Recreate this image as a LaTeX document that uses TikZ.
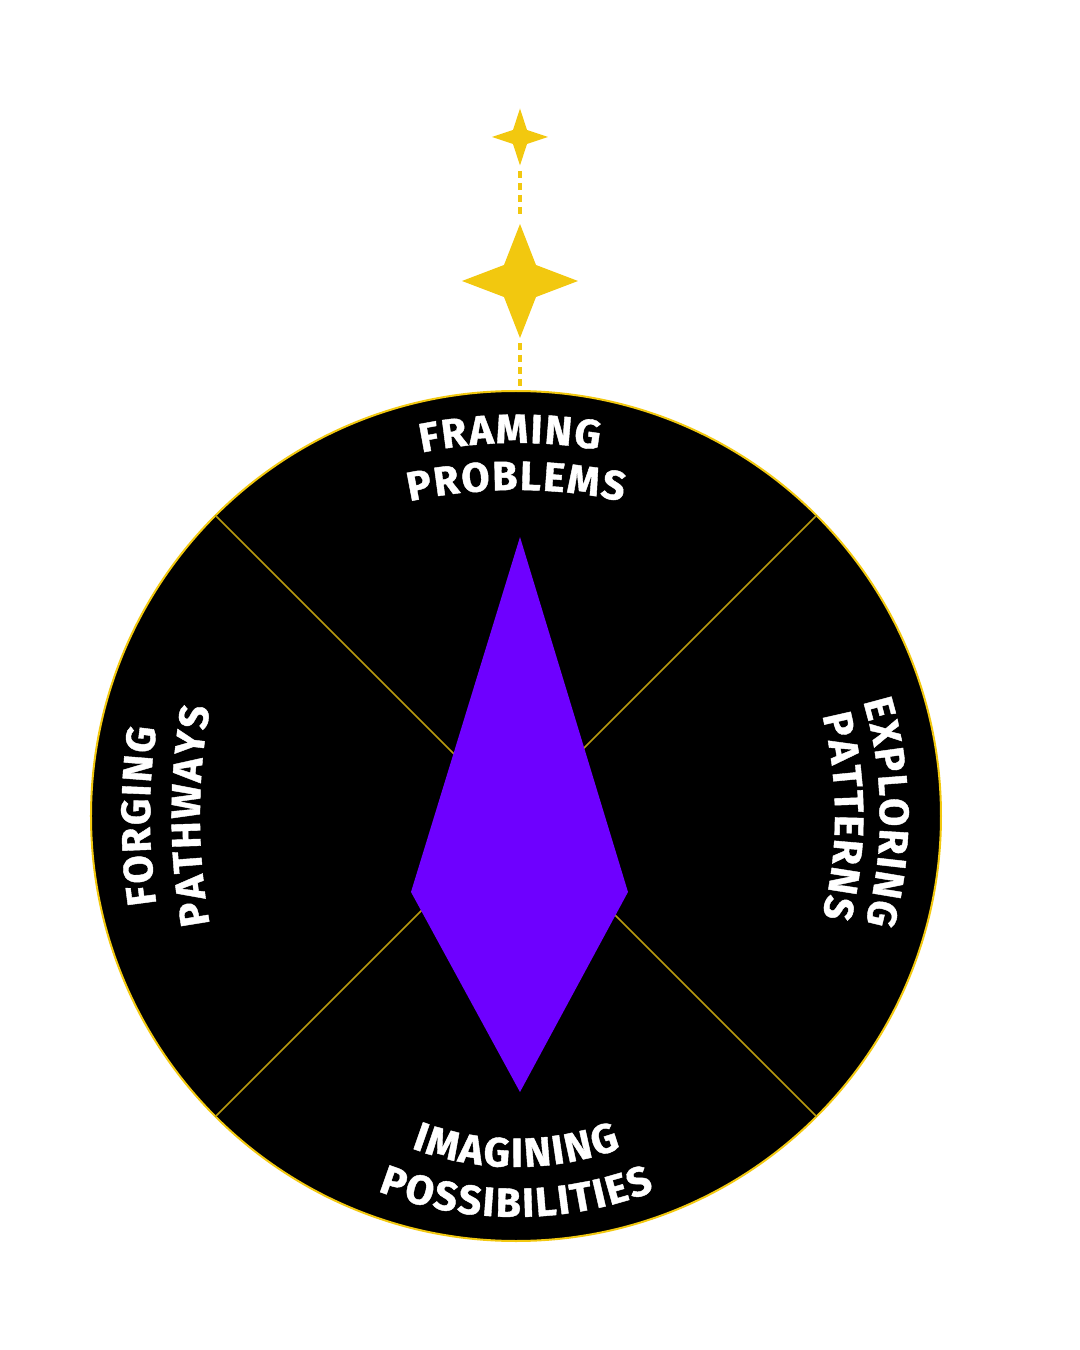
\documentclass[tikz,border=0pt]{standalone}
\usepackage{fontspec}
\usetikzlibrary{decorations.text}
\newfontfamily\lblfont[BoldFeatures={FakeBold=1}]{Fira Sans}
\definecolor{staryellow}{HTML}{F2C80F}
\definecolor{linegold}{HTML}{B89A10}
\definecolor{violet}{HTML}{6E00FF}
\newcommand\lblfmt{\lblfont\bfseries\fontsize{20.5}{20.5}\selectfont\color{white}}
\newcommand\ls{\kern0.9pt}
\tikzset{
  wheel/.style={fill=black,draw=staryellow,line width=1pt},
  divider/.style={draw=linegold,line width=0.8pt},
  gem/.style={fill=violet},
  sparkle/.style={fill=staryellow},
  trail/.style={draw=staryellow,line width=1.6pt,dash pattern=on 3.5pt off 2.5pt},
}
% #1 direction of label middle, #2 baseline distance, #3 curvature radius,
% #4 half angle (negative = counterclockwise), #5 text
\newcommand\arctext[5]{%
  \path[shift={(#1:#2-#3)},decorate,decoration={text along path,text={|\lblfmt|#5},text align=center}]
    (#1+#4:#3) arc[start angle=#1+#4,end angle=#1-#4,radius=#3];}
\begin{document}
\begin{tikzpicture}[x=0.5pt,y=0.5pt]
\useasboundingbox (-516,-534) rectangle (564,816);
% wheel
\draw[wheel] (0,0) circle[radius=425];
\coordinate (top) at (4,425);
\draw[divider] (135:425) -- (-45:425);
\draw[divider] (45:425) -- (-135:425);
% diamond
\coordinate (dT) at (4,279);
\coordinate (dL) at (-105,-76);
\coordinate (dR) at (112,-76);
\coordinate (dB) at (4,-276);
\fill[gem] (dT) -- (dR) -- (dB) -- (dL) -- cycle;
% stars
\coordinate (s1) at (4,679);
\coordinate (s2) at (4,535);
\fill[sparkle] (s1) ++(0,28.5) -- ++(-7,-21.5) -- ++(-21,-7) -- ++(21,-7) -- ++(7,-21.5) -- ++(7,21.5) -- ++(21,7) -- ++(-21,7) -- cycle;
\fill[sparkle] (s2) ++(0,57) -- ++(-16,-41) -- ++(-42,-16) -- ++(42,-16) -- ++(16,-41) -- ++(16,41) -- ++(42,16) -- ++(-42,16) -- cycle;
\coordinate (s1b) at (4,645);
\coordinate (s2t) at (4,600);
\coordinate (s2b) at (4,473);
\draw[trail] (s1b) -- (s2t);
\draw[trail] (s2b) -- (top);
% labels
\arctext{90.9}{373}{480}{40}{F{\ls}R{\ls}A{\ls}M{\ls}I{\ls}N{\ls}G}
\arctext{90}{326}{500}{40}{P{\ls}R{\ls}O{\ls}B{\ls}L{\ls}E{\ls}M{\ls}S}
\arctext{180}{366}{600}{40}{F{\ls}O{\ls}R{\ls}G{\ls}I{\ls}N{\ls}G}
\arctext{180}{316}{600}{40}{P{\ls}A{\ls}T{\ls}H{\ls}W{\ls}A{\ls}Y{\ls}S}
\arctext{0.6}{364}{400}{40}{E{\ls}X{\ls}P{\ls}L{\ls}O{\ls}R{\ls}I{\ls}N{\ls}G}
\arctext{0}{319}{400}{40}{P{\ls}A{\ls}T{\ls}T{\ls}E{\ls}R{\ls}N{\ls}S}
\arctext{270}{351}{300}{-40}{I{\ls}M{\ls}A{\ls}G{\ls}I{\ls}N{\ls}I{\ls}N{\ls}G}
\arctext{270}{401}{380}{-40}{P{\ls}O{\ls}S{\ls}S{\ls}I{\ls}B{\ls}I{\ls}L{\ls}I{\ls}T{\ls}I{\ls}E{\ls}S}
\end{tikzpicture}
\end{document}
